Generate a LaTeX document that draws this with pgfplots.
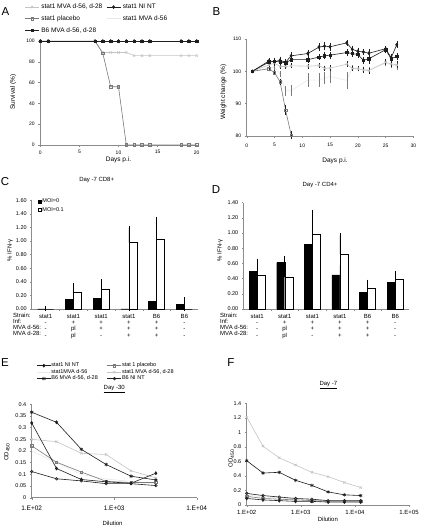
\documentclass[border=0pt]{standalone}
\usepackage{fontspec}
\setmainfont{Liberation Sans}
\usepackage{pgfplots}
\pgfplotsset{compat=1.18}
\definecolor{cdark}{HTML}{1E1E1E}
\definecolor{cgray}{HTML}{7A7A7A}
\definecolor{clight}{HTML}{C4C4C4}
\definecolor{cvlight}{HTML}{E8E8E8}
\definecolor{caxis}{HTML}{8C8C8C}
\newcommand{\fst}{\fontsize{5}{6}\selectfont}
\newcommand{\fsl}{\fontsize{6.5}{7.5}\selectfont}
\newcommand{\fsb}{\fontsize{6}{6.3}\selectfont}
\pgfplotsset{
  base/.style={
    scale only axis,
    anchor=south west,
    axis lines=left,
    axis line style={-, caxis, line width=0.5pt},
    every outer x axis line/.append style={-},
    every outer y axis line/.append style={-},
    tick style={caxis, line width=0.4pt},
    major tick length=2pt,
    minor tick length=2pt,
    tick align=outside,
    /pgf/number format/assume math mode=true,
    tick label style={font=\fst},
    label style={font=\fsl},
    title style={font=\fsl},
    legend style={font=\fsl},
    legend cell align=left,
    clip=false,
  },
  linelegend/.style={legend image code/.code={\draw[mark repeat=2,mark phase=2,##1] plot coordinates {(0pt,0pt)(7pt,0pt)(14pt,0pt)};}},
  sqlegend/.style={legend image code/.code={\draw[##1] (0pt,-1.4pt) rectangle (2.8pt,1.4pt);}},
  sNINT/.style={cdark, line width=0.6pt, mark=diamond*, mark size=1.5pt, mark options={solid, fill=cdark}},
  sPL/.style={cgray, line width=0.6pt, mark=square, mark size=1.2pt, mark options={solid, fill=white}},
  sMVA2/.style={clight, line width=0.6pt, mark=x, mark size=1.6pt},
  sMVA1/.style={cvlight, line width=0.6pt, mark=none},
  sB6MVA/.style={cdark, line width=0.6pt, mark=square*, mark size=1.2pt},
  sB6star/.style={cdark, line width=0.6pt, mark=asterisk, mark size=1.8pt},
  sB6NI/.style={cdark, line width=0.6pt, mark=o, mark size=1.3pt},
  eb/.style={error bars/.cd, y dir=both, y explicit, error bar style={#1, line width=0.4pt, solid}, error mark options={#1, mark size=1.1pt, line width=0.4pt}},
  eb/.default=cdark,
}
\begin{document}
\begin{tikzpicture}[x=1pt,y=1pt]
\path[use as bounding box] (0,0) rectangle (423,526);
\node[font=\fontsize{11.5}{12}\selectfont] at (5.5,514) {A};
\node[font=\fontsize{11.5}{12}\selectfont] at (216.5,514.7) {B};
\node[font=\fontsize{11.5}{12}\selectfont] at (5,344.3) {C};
\node[font=\fontsize{11.5}{12}\selectfont] at (216,336) {D};
\node[font=\fontsize{11.5}{12}\selectfont] at (5,163.5) {E};
\node[font=\fontsize{11.5}{12}\selectfont] at (231,163) {F};

% ---------------- A ----------------
\begin{axis}[base, at={(40.3pt,381pt)}, width=156.4pt, height=106pt,
  xmin=0, xmax=20, ymin=0, ymax=102,
  xtick={0,5,10,15,20}, ytick={0,20,40,60,80,100},
  xlabel={Days p.i.}, ylabel={Survival (\%)},
  xlabel style={at={(axis description cs:0.5,-0.14)}, anchor=center},
  ylabel style={at={(axis description cs:-0.173,0.5)}, anchor=center},
  linelegend,
  legend columns=2,
  legend style={at={(axis description cs:-0.12,1.37)}, anchor=north west, draw=none, fill=none, row sep=1.5pt, /tikz/every even column/.append style={column sep=2pt}},
]
\addlegendimage{sMVA2}\addlegendentry{stat1 MVA d-56, d-28}
\addlegendimage{sNINT}\addlegendentry{stat1 NI NT}
\addlegendimage{sPL}\addlegendentry{stat1 placebo}
\addlegendimage{sMVA1}\addlegendentry{stat1 MVA d-56}
\addlegendimage{sB6MVA}\addlegendentry{B6 MVA d-56, d-28}
\addplot[sMVA1, forget plot] coordinates {(0,100)(1,100)(7,100)(8,100)(9,100)(10,100)(11,100)(12,100)(13,100)(14,100)(18,100)(19,100)(20,100)};
\addplot[sMVA2, forget plot] coordinates {(0,100)(1,100)(7,100)(8,89)(9,89)(10,89)(11,89)(12,86)(13,86)(14,86)(18,86)(19,86)(20,86)};
\addplot[sPL, forget plot] coordinates {(0,100)(1,100)(7,100)(8,88)(9,56)(10,56)(11,0)(12,0)(13,0)(14,0)(18,0)(19,0)(20,0)};
\addplot[sNINT, forget plot] coordinates {(0,100)(1,100)(7,100)(8,100)(9,100)(10,100)(11,100)(12,100)(13,100)(14,100)(18,100)(19,100)(20,100)};
\addplot[sB6MVA, forget plot] coordinates {(0,100)(1,100)(7,100)(8,100)(9,100)(10,100)(11,100)(12,100)(13,100)(14,100)(18,100)(19,100)(20,100)};
\end{axis}

% ---------------- B ----------------
\begin{axis}[base, at={(246.7pt,390pt)}, width=166.7pt, height=97pt,
  xmin=0, xmax=30, ymin=80, ymax=110,
  xtick={0,5,10,15,20,25,30}, ytick={80,90,100,110},
  xticklabel style={yshift=-2pt},
  xlabel={Days p.i.}, ylabel={Weight change (\%)},
  xlabel style={at={(axis description cs:0.53,-0.26)}, anchor=center},
  ylabel style={at={(axis description cs:-0.14,0.45)}, anchor=center},
]
\addplot[sMVA1, eb=cgray] table[y error=e] {
x y e
1 100 0
4 101.0 0.5
5 101.3 0.6
6 99.2 0.6
7 94.0 1.2
8 94.0 1.4
11 97.3 1.7
13 97.3 1.7
14 97.9 1.5
15 98.4 1.7
18 97.2 2.2
19 101.0 0.6
20 100.8 0.5
21 100.6 0.5
22 100.5 0.5
25 102.5 0.6
26 102.0 0.5
27 101.5 0.6
};
\addplot[sMVA2, eb] table[y error=e] {
x y e
1 100 0
4 102.0 0.6
5 102.5 0.5
6 101.5 0.4
7 101.5 0.4
8 101.7 0.4
11 101.6 0.4
13 101.8 0.4
14 100.9 0.5
15 101.0 0.5
18 102.2 0.5
19 100.9 0.5
20 100.8 0.5
21 100.4 0.6
22 100.2 0.6
25 102.8 0.6
26 102.3 0.5
27 102.0 0.7
};
\addplot[sPL, eb] table[y error=e] {
x y e
1 100 0
4 100.8 0.5
5 99.6 0.5
6 96.8 0.6
7 88.0 1.2
8 80.3 0.8
};
\addplot[sB6MVA, eb] table[y error=e] {
x y e
1 100 0
4 102.9 0.5
5 103.1 0.6
6 102.9 0.5
7 102.6 0.6
8 103.6 0.5
11 103.6 0.7
13 104.4 0.6
14 104.8 0.8
15 105.0 0.7
18 105.8 0.8
19 105.5 0.7
20 105.2 0.6
21 103.4 0.7
22 103.9 1.2
25 106.7 0.6
26 103.9 0.7
27 104.6 0.8
};
\addplot[sNINT, eb] table[y error=e] {
x y e
1 100 0
4 103.2 0.6
5 103.0 0.5
6 103.4 0.8
7 102.8 0.6
8 104.8 0.7
11 105.5 0.8
13 107.5 0.9
14 107.8 1.0
15 107.6 0.9
18 108.8 0.7
19 106.8 0.8
20 106.2 0.8
21 106.0 0.6
22 105.6 0.9
25 107.0 0.6
26 104.2 0.8
27 108.2 0.7
};
\end{axis}

% ---------------- C ----------------
\begin{axis}[base, at={(31.7pt,217pt)}, width=166.6pt, height=108.8pt,
  xmin=-0.5, xmax=5.5, ymin=0, ymax=1.6,
  ytick={0,0.2,0.4,0.6,0.8,1.0,1.2,1.4,1.6},
  yticklabel style={/pgf/number format/fixed, /pgf/number format/fixed zerofill, /pgf/number format/precision=2, font=\fontsize{5.5}{6}\selectfont},
  major tick length=1.5pt,
  xtick={0,1,2,3,4,5},
  xticklabels={{stat1\\-\\-\\-},{stat1\\+\\pl\\pl},{stat1\\+\\+\\-},{stat1\\+\\+\\+},{B6\\+\\+\\+},{B6\\-\\-\\-}},
  xticklabel style={align=center, anchor=north, inner sep=0pt, yshift=-3.5pt, font=\fsb},
  major x tick style={draw=none}, minor x tick num=1,
  title={Day -7 CD8+}, title style={at={(axis description cs:0.39,1.13)}, anchor=center, font=\fontsize{6}{7}\selectfont},
  ylabel={\% IFN-γ},
  ylabel style={at={(axis description cs:-0.13,0.54)}, anchor=center, font=\fontsize{6}{7}\selectfont},
  legend style={at={(axis description cs:0.02,1.04)}, anchor=north west, draw=none, fill=none, font=\fontsize{5.5}{6}\selectfont, nodes={inner sep=1pt}, row sep=1pt},
]
\addplot[ybar, bar width=8pt, bar shift=-4pt, fill=black, draw=black, line width=0.4pt, sqlegend,
  error bars/.cd, y dir=plus, y explicit, error bar style={black, line width=0.5pt}, error mark options={black, mark size=2.5pt, line width=0.5pt}]
  coordinates {(0,0) +- (0,0) (1,0.145) +- (0,0.065) (2,0.155) +- (0,0.05) (3,0) +- (0,0) (4,0.115) +- (0,0.008) (5,0.068) +- (0,0.07)};
\addlegendentry{MOI=0}
\addplot[ybar, bar width=8pt, bar shift=4pt, fill=white, draw=black, line width=0.4pt, sqlegend,
  error bars/.cd, y dir=plus, y explicit, error bar style={black, line width=0.5pt}, error mark options={black, mark size=2.5pt, line width=0.5pt}]
  coordinates {(0,0) +- (0,0) (1,0.25) +- (0,0.09) (2,0.285) +- (0,0.115) (3,0.976) +- (0,0.215) (4,1.02) +- (0,0.29) (5,0) +- (0,0)};
\addlegendentry{MOI=0.1}
\end{axis}
\node[anchor=north west, align=left, font=\fsb, inner sep=0pt] at (13,213.5) {Strain:\\Inf:\\MVA d-56:\\MVA d-28:};

% ---------------- D ----------------
\begin{axis}[base, at={(243.3pt,217pt)}, width=165.7pt, height=106.4pt,
  xmin=-0.5, xmax=5.5, ymin=0, ymax=1.4,
  ytick={0,0.2,0.4,0.6,0.8,1.0,1.2,1.4},
  yticklabel style={/pgf/number format/fixed, /pgf/number format/fixed zerofill, /pgf/number format/precision=2, font=\fontsize{5.5}{6}\selectfont},
  major tick length=1.5pt,
  xtick={0,1,2,3,4,5},
  xticklabels={{stat1\\-\\-\\-},{stat1\\+\\pl\\pl},{stat1\\+\\+\\-},{stat1\\+\\+\\+},{B6\\+\\+\\+},{B6\\-\\-\\-}},
  xticklabel style={align=center, anchor=north, inner sep=0pt, yshift=-3.5pt, font=\fsb},
  major x tick style={draw=none}, minor x tick num=1,
  title={Day -7 CD4+}, title style={at={(axis description cs:0.463,1.109)}, anchor=center, font=\fontsize{6}{7}\selectfont},
  ylabel={\% IFN-γ},
  ylabel style={at={(axis description cs:-0.14,0.55)}, anchor=center, font=\fontsize{6}{7}\selectfont},
]
\addplot[ybar, bar width=8pt, bar shift=-4pt, fill=black, draw=black, line width=0.4pt,
  error bars/.cd, y dir=plus, y explicit, error bar style={black, line width=0.5pt}, error mark options={black, mark size=2.5pt, line width=0.5pt}]
  coordinates {(0,0.495) +- (0,0.135) (1,0.61) +- (0,0.06) (2,0.855) +- (0,0.195) (3,0.45) +- (0,0.125) (4,0.22) +- (0,0.135) (5,0.35) +- (0,0.12)};
\addplot[ybar, bar width=8pt, bar shift=4pt, fill=white, draw=black, line width=0.4pt,
  error bars/.cd, y dir=plus, y explicit, error bar style={black, line width=0.5pt}, error mark options={black, mark size=2.5pt, line width=0.5pt}]
  coordinates {(0,0.45) +- (0,0.04) (1,0.42) +- (0,0.155) (2,0.99) +- (0,0.28) (3,0.72) +- (0,0.25) (4,0.27) +- (0,0.015) (5,0.395) +- (0,0.075)};
\end{axis}
\node[anchor=north west, align=left, font=\fsb, inner sep=0pt] at (220,213.5) {Strain:\\Inf:\\MVA d-56:\\MVA d-28:};

% ---------------- E ----------------
\begin{axis}[base, at={(31.7pt,28.3pt)}, width=165pt, height=93.4pt,
  xmode=log, xmin=100, xmax=10000, ymin=0, ymax=0.4,
  xtick={100,1000,10000}, xticklabels={1.E+02,1.E+03,1.E+04},
  minor x tick style={draw=none},
  xticklabel style={font=\fontsize{6.5}{7}\selectfont, yshift=-2.5pt},
  ytick={0,0.05,0.1,0.15,0.2,0.25,0.3,0.35,0.4},
  yticklabels={0,0.05,0.1,0.15,0.2,0.25,0.3,0.35,0.4},
  yticklabel style={font=\fontsize{5.5}{6}\selectfont},
  title={\underline{Day -30}}, title style={at={(axis description cs:0.5,1.1)}, anchor=center, font=\fontsize{6}{7}\selectfont},
  xlabel={Dilution}, ylabel={OD\textsubscript{450}},
  xlabel style={at={(axis description cs:0.49,-0.28)}, anchor=center, font=\fontsize{6}{7}\selectfont},
  ylabel style={at={(axis description cs:-0.15,0.49)}, anchor=center, font=\fontsize{6}{7}\selectfont},
  linelegend,
  legend columns=2,
  legend style={at={(axis description cs:0.01,1.47)}, anchor=north west, draw=none, fill=none, font=\fontsize{5.5}{6}\selectfont, nodes={inner sep=0.3pt}, row sep=0.4pt, /tikz/every even column/.append style={column sep=9pt}},
]
\addlegendimage{sNINT}\addlegendentry{stat1 NI NT}
\addlegendimage{sPL}\addlegendentry{stat 1 placebo}
\addlegendimage{sMVA1}\addlegendentry{stat1MVA d-56}
\addlegendimage{sMVA2}\addlegendentry{stat1 MVA d-56, d-28}
\addlegendimage{sB6star}\addlegendentry{B6 MVA d-56, d-28}
\addlegendimage{sB6NI}\addlegendentry{B6 NI NT}
\addplot[sMVA1, forget plot] coordinates {(100,0.2)(200,0.15)(400,0.1)(800,0.08)(1600,0.07)(3200,0.06)};
\addplot[sMVA2, forget plot] coordinates {(100,0.25)(200,0.24)(400,0.19)(800,0.185)(1600,0.115)(3200,0.085)};
\addplot[sPL, forget plot] coordinates {(100,0.222)(200,0.152)(400,0.11)(800,0.07)(1600,0.065)(3200,0.065)};
\addplot[sB6NI, forget plot] coordinates {(100,0.112)(200,0.081)(400,0.072)(800,0.06)(1600,0.06)(3200,0.052)};
\addplot[sNINT, forget plot] coordinates {(100,0.32)(200,0.125)(400,0.078)(800,0.068)(1600,0.062)(3200,0.105)};
\addplot[sB6star, forget plot] coordinates {(100,0.366)(200,0.323)(400,0.207)(800,0.142)(1600,0.092)(3200,0.076)};
\end{axis}

% ---------------- F ----------------
\begin{axis}[base, at={(246.7pt,21pt)}, width=162.3pt, height=101.7pt,
  xmode=log, xmin=100, xmax=100000, ymin=0, ymax=1.4,
  xtick={100,1000,10000,100000}, xticklabels={1.E+02,1.E+03,1.E+04,1.E+05},
  minor x tick style={draw=none},
  xticklabel style={font=\fontsize{6}{7}\selectfont},
  ytick={0,0.2,0.4,0.6,0.8,1,1.2,1.4},
  yticklabels={0,0.2,0.4,0.6,0.8,1,1.2,1.4},
  yticklabel style={font=\fontsize{5.5}{6}\selectfont},
  title={\underline{Day -7}}, title style={at={(axis description cs:0.503,1.124)}, anchor=center, font=\fontsize{6}{7}\selectfont},
  xlabel={Dilution}, ylabel={OD\textsubscript{450}},
  xlabel style={at={(axis description cs:0.5,-0.14)}, anchor=center, font=\fontsize{6}{7}\selectfont},
  ylabel style={at={(axis description cs:-0.095,0.46)}, anchor=center, font=\fontsize{6}{7}\selectfont},
]
\addplot[sMVA1] coordinates {(100,0.14)(200,0.11)(400,0.1)(800,0.08)(1600,0.07)(3200,0.06)(6400,0.055)(12800,0.05)};
\addplot[sMVA2] coordinates {(100,1.21)(200,0.81)(400,0.65)(800,0.55)(1600,0.45)(3200,0.39)(6400,0.31)(12800,0.24)};
\addplot[sPL] coordinates {(100,0.12)(200,0.09)(400,0.08)(800,0.07)(1600,0.06)(3200,0.05)(6400,0.05)(12800,0.05)};
\addplot[sNINT] coordinates {(100,0.09)(200,0.07)(400,0.06)(800,0.05)(1600,0.05)(3200,0.04)(6400,0.04)(12800,0.04)};
\addplot[sB6NI] coordinates {(100,0.16)(200,0.13)(400,0.11)(800,0.09)(1600,0.08)(3200,0.06)(6400,0.06)(12800,0.06)};
\addplot[sB6star] coordinates {(100,0.61)(200,0.44)(400,0.45)(800,0.34)(1600,0.27)(3200,0.18)(6400,0.14)(12800,0.13)};
\end{axis}
\end{tikzpicture}
\end{document}
